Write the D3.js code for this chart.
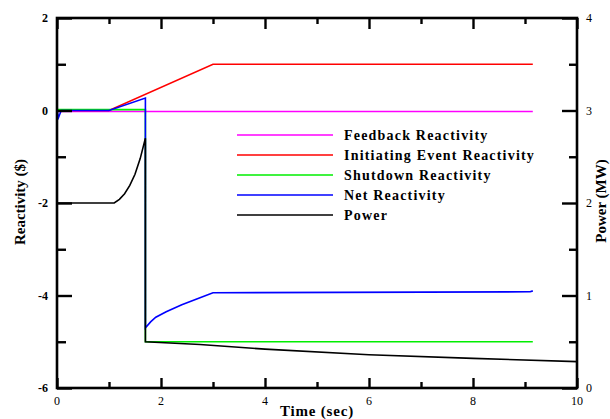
<!DOCTYPE html>
<html>
<head>
<meta charset="utf-8">
<script src="https://cdn.jsdelivr.net/npm/d3@7"></script>
<style>
  body { margin: 0; background: #fff; }
  svg text { font-family: "Liberation Serif", "Times New Roman", "DejaVu Serif", serif; }
</style>
</head>
<body>
<div id="chart"></div>
<script>
// Reactivity series ($) vs time (sec)
const feedbackT = [0, 9.15];
const feedbackV = [-0.02, -0.02];

const initiatingT = [0, 1.0, 3.0, 9.15];
const initiatingV = [0, 0, 1.0, 1.0];

const shutdownT = [0, 1.7, 1.7, 9.15];
const shutdownV = [0.02, 0.02, -5, -5];

const netT = [0, 0.03, 0.08, 1.0, 1.7, 1.7, 1.8, 1.9, 2.1, 2.4, 2.75, 3.0, 9.1, 9.15];
const netV = [0, -0.15, 0, 0, 0.27, -4.7, -4.57, -4.47, -4.35, -4.2, -4.05, -3.94, -3.92, -3.9];

// Power (MW) vs time, right axis
const powerT = [0, 1.1, 1.2, 1.3, 1.4, 1.5, 1.6, 1.7, 1.7, 2.75, 4, 6, 8, 10];
const powerV = [2, 2, 2.04, 2.1, 2.19, 2.31, 2.48, 2.7, 0.5, 0.47, 0.42, 0.36, 0.32, 0.285];

const xTicks = [0, 2, 4, 6, 8, 10];
const xMinor = [1, 3, 5, 7, 9];
const yTicks = [-6, -4, -2, 0, 2];
const yMinor = [-5, -3, -1, 1];
const pTicks = [0, 1, 2, 3, 4];
const pMinor = [0.5, 1.5, 2.5, 3.5];

const legendNames = ["Feedback Reactivity", "Initiating Event Reactivity", "Shutdown Reactivity", "Net Reactivity", "Power"];
const legendColors = ["#ff00ff", "#ff0000", "#00ee00", "#0000ff", "#000000"];

const W = 610, H = 419;
const L = 57, R = 577, T = 18, B = 388;

const svg = d3.select("#chart").append("svg")
  .attr("width", W).attr("height", H);

const x = d3.scaleLinear().domain([0, 10]).range([L, R]);
const y = d3.scaleLinear().domain([-6, 2]).range([B, T]);
const yp = d3.scaleLinear().domain([0, 4]).range([B, T]);

const toPts = (ts, vs) => ts.map((t, i) => [t, vs[i]]);
const lineR = d3.line().x(d => x(d[0])).y(d => y(d[1]));
const lineP = d3.line().x(d => x(d[0])).y(d => yp(d[1]));

// series
const series = [
  { pts: toPts(feedbackT, feedbackV), c: legendColors[0], gen: lineR },
  { pts: toPts(initiatingT, initiatingV), c: legendColors[1], gen: lineR },
  { pts: toPts(shutdownT, shutdownV), c: legendColors[2], gen: lineR },
  { pts: toPts(netT, netV), c: legendColors[3], gen: lineR },
  { pts: toPts(powerT, powerV), c: legendColors[4], gen: lineP }
];
series.forEach(s => {
  svg.append("path")
    .attr("d", s.gen(s.pts))
    .attr("fill", "none")
    .attr("stroke", s.c)
    .attr("stroke-width", 1.6);
});

// axes (ticks point inward)
function axis(gen, tr, major, minor, majLen, minLen) {
  const g = svg.append("g").attr("transform", tr);
  g.call(gen.tickValues(major).tickSize(-majLen).tickFormat(""));
  g.select(".domain").remove();
  const g2 = svg.append("g").attr("transform", tr);
  g2.call(gen.tickValues(minor).tickSize(-minLen).tickFormat(""));
  g2.select(".domain").remove();
  svg.selectAll("g line").attr("stroke", "#000").attr("stroke-width", 2.4);
}
axis(d3.axisBottom(x), `translate(0,${B})`, xTicks, xMinor, 10, 6);
axis(d3.axisTop(x), `translate(0,${T})`, xTicks, xMinor, 11, 6);
axis(d3.axisLeft(y), `translate(${L},0)`, yTicks, yMinor, 15, 9);
axis(d3.axisRight(yp), `translate(${R},0)`, pTicks, pMinor, 15, 8);

// frame
svg.append("rect")
  .attr("x", L).attr("y", T).attr("width", R - L).attr("height", B - T)
  .attr("fill", "none").attr("stroke", "#000").attr("stroke-width", 2.6);

// tick labels
svg.selectAll(".ylab").data(yTicks).enter().append("text")
  .attr("x", L - 9).attr("y", d => y(d) + 4)
  .attr("text-anchor", "end").attr("font-size", 12).attr("font-weight", "bold")
  .text(d => d);
svg.selectAll(".xlab").data(xTicks).enter().append("text")
  .attr("x", d => x(d)).attr("y", 405)
  .attr("text-anchor", "middle").attr("font-size", 12)
  .text(d => d);
svg.selectAll(".plab").data(pTicks).enter().append("text")
  .attr("x", R + 9).attr("y", d => yp(d) + 4)
  .attr("font-size", 12)
  .text(d => d);

// axis titles
svg.append("text")
  .attr("x", 317).attr("y", 416)
  .attr("text-anchor", "middle").attr("font-size", 15).attr("font-weight", "bold")
  .attr("letter-spacing", 0.8)
  .text("Time (sec)");
svg.append("text")
  .attr("transform", "translate(25,202) rotate(-90)")
  .attr("text-anchor", "middle").attr("font-size", 15).attr("font-weight", "bold")
  .text("Reactivity ($)");
svg.append("text")
  .attr("transform", "translate(606,201) rotate(-90)")
  .attr("text-anchor", "middle").attr("font-size", 15).attr("font-weight", "bold")
  .text("Power (MW)");

// legend
const leg = svg.append("g");
legendNames.forEach((n, i) => {
  const yy = 135 + i * 20;
  leg.append("line")
    .attr("x1", 237).attr("x2", 333).attr("y1", yy).attr("y2", yy)
    .attr("stroke", legendColors[i]).attr("stroke-width", 1.6);
  leg.append("text")
    .attr("x", 344).attr("y", yy + 5)
    .attr("font-size", 14).attr("font-weight", "bold").attr("letter-spacing", 1.2)
    .text(n);
});
</script>
</body>
</html>
